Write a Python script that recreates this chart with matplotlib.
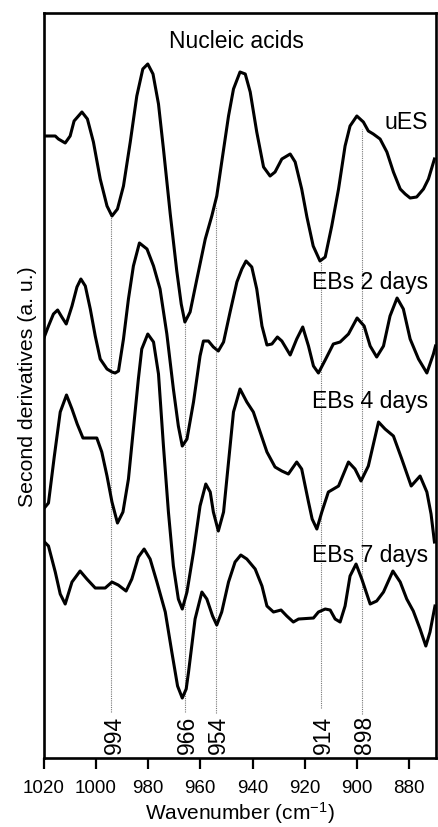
import matplotlib
matplotlib.use("Agg")
import matplotlib.pyplot as plt

plt.rcParams["font.family"] = ["Liberation Sans", "DejaVu Sans"]
plt.rcParams["mathtext.fontset"] = "custom"
plt.rcParams["mathtext.rm"] = "Liberation Sans"
plt.rcParams["mathtext.default"] = "regular"

# --- second-derivative spectra (wavenumber, a.u. with vertical offsets baked in) ---
UES_WN = [1020, 1015.5, 1014.3, 1011.7, 1009.8, 1008.3, 1005.3, 1003.2, 1000.9, 998.3,
          995.7, 993.8, 991.7, 989.4, 986.8, 984.3, 982.0, 980.1, 978.1, 976.0,
          974.1, 971.5, 969.0, 967.3, 965.9, 963.9, 961.3, 958.1, 955.6, 953.7,
          951.8, 949.2, 947.3, 944.8, 942.8, 940.9, 938.4, 935.8, 933.3, 931.4,
          928.8, 925.6, 923.7, 921.2, 919.2, 916.8, 914.2, 912.2, 909.7, 907.1,
          904.6, 902.7, 900.1, 897.6, 895.7, 893.8, 891.2, 888.6, 886.1, 883.5,
          881.6, 879.7, 877.2, 874.6, 872.7, 870.4]
UES_Y = [622, 622, 619, 615, 622, 637, 646, 639, 616, 579,
         552, 542, 549, 572, 616, 662, 689, 694, 684, 654,
         609, 544, 487, 454, 436, 446, 479, 519, 542, 562,
         596, 642, 669, 686, 684, 666, 626, 591, 582, 586,
         599, 604, 596, 569, 541, 512, 497, 501, 532, 569,
         612, 632, 642, 636, 627, 624, 619, 606, 586, 569,
         564, 560, 561, 569, 579, 599]

EB2_WN = [1020, 1018.1, 1016.2, 1014.6, 1013.0, 1011.3, 1009.1, 1007.2, 1005.7, 1004.0,
          1002.1, 1000.2, 998.3, 995.7, 993.8, 992.6, 991.3, 989.4, 987.5, 985.6,
          983.3, 980.4, 977.9, 975.4, 972.8, 970.3, 968.4, 966.9, 965.1, 962.6,
          960.1, 958.8, 956.9, 955.0, 953.1, 951.1, 948.6, 946.0, 944.1, 942.5,
          940.3, 938.4, 936.4, 934.5, 932.6, 930.5, 928.8, 925.6, 923.1, 920.8,
          918.6, 916.7, 914.8, 912.2, 909.1, 906.5, 903.3, 900.0, 897.3, 895.0,
          892.5, 889.9, 887.4, 884.7, 882.3, 879.7, 876.5, 873.3, 870.8, 870.0]
EB2_Y = [419, 432, 444, 448, 441, 434, 452, 471, 479, 472,
         449, 422, 399, 389, 386, 385, 387, 419, 459, 492,
         515, 509, 492, 469, 424, 369, 332, 312, 319, 356,
         402, 417, 417, 411, 407, 416, 446, 476, 489, 497,
         491, 469, 432, 413, 414, 421, 417, 403, 419, 431,
         412, 392, 385, 398, 414, 416, 424, 440, 432, 412,
         401, 412, 442, 460, 449, 419, 399, 385, 404, 412]

EB4_WN = [1020, 1018.1, 1015.9, 1013.6, 1011.2, 1009.1, 1007.1, 1004.9, 999.6, 997.7,
          995.7, 993.8, 991.7, 989.6, 987.5, 985.6, 983.7, 982.4, 980.1, 977.9,
          976.0, 974.1, 972.2, 970.3, 968.4, 966.9, 965.1, 962.6, 960.1, 957.9,
          956.2, 955.0, 953.1, 951.1, 949.2, 947.3, 944.8, 942.2, 939.7, 937.1,
          934.5, 931.4, 928.8, 926.3, 923.1, 921.2, 918.6, 917.2, 915.4, 913.5,
          911.0, 907.1, 903.3, 900.8, 898.5, 895.7, 891.8, 889.3, 886.1, 882.9,
          879.3, 875.9, 873.3, 871.7, 870.4]
EB4_Y = [249, 255, 301, 346, 363, 349, 334, 320, 320, 306,
         282, 256, 235, 246, 279, 329, 379, 409, 424, 416,
         384, 312, 246, 192, 159, 149, 166, 206, 252, 274,
         266, 246, 227, 246, 296, 346, 369, 356, 346, 326,
         306, 291, 287, 284, 296, 289, 256, 239, 229, 246,
         266, 272, 296, 289, 277, 292, 336, 329, 322, 299,
         272, 282, 266, 244, 216]

EB7_WN = [1020, 1018.1, 1015.5, 1013.6, 1011.7, 1009.1, 1006.0, 1003.4, 1000.2, 996.4,
          993.8, 991.4, 988.4, 986.2, 983.7, 981.5, 979.2, 976.6, 973.4, 970.9,
          968.7, 966.9, 965.4, 964.5, 962.0, 959.4, 957.5, 955.3, 953.7, 951.8,
          949.2, 946.7, 944.5, 942.2, 939.0, 936.4, 934.5, 932.0, 929.1, 926.9,
          924.4, 922.4, 916.7, 914.8, 912.2, 910.3, 908.4, 906.5, 904.6, 902.7,
          900.4, 898.2, 895.0, 892.5, 889.9, 886.3, 883.5, 881.0, 878.5, 875.9,
          873.7, 872.1, 870.2]
EB7_Y = [217, 212, 186, 164, 154, 176, 187, 179, 170, 170,
         176, 173, 167, 179, 201, 209, 199, 176, 146, 106,
         72, 60, 69, 86, 139, 166, 159, 142, 133, 146,
         176, 196, 203, 199, 189, 172, 152, 146, 148, 142,
         136, 139, 140, 146, 149, 148, 139, 136, 152, 182,
         194, 179, 154, 157, 166, 187, 176, 159, 147, 129,
         112, 126, 152]

SERIES = [("uES", UES_WN, UES_Y, 630),
          ("EBs 2 days", EB2_WN, EB2_Y, 470),
          ("EBs 4 days", EB4_WN, EB4_Y, 351),
          ("EBs 7 days", EB7_WN, EB7_Y, 197)]

# marker bands: position, top of dotted guide, bottom of dotted guide
BANDS = [994, 966, 954, 914, 898]
BAND_TOP = [542, 436, 552, 496, 629]
BAND_BOT = [46, 46, 45, 50, 44]

fig = plt.figure(figsize=(4.39, 8.28), dpi=100)
ax = fig.add_axes([0.0991, 0.0833, 0.8941, 0.8998])

for wn, top, bot in zip(BANDS, BAND_TOP, BAND_BOT):
    ax.plot([wn, wn], [bot, top], ls=(0, (1, 1)), lw=0.8, color="#777777", zorder=1)
    ax.text(wn - 1, 5, str(wn), rotation=90, ha="center", va="bottom", fontsize=16.5)

for name, wn, y, ylab in SERIES:
    ax.plot(wn, y, color="black", lw=2.2, solid_joinstyle="round", zorder=2)
    ax.text(872.8, ylab, name, ha="right", va="baseline", fontsize=16.6)

ax.text(946, 711, "Nucleic acids", ha="center", va="baseline", fontsize=16.5)

ax.set_xlim(1020, 869.8)
ax.set_ylim(0, 745)
ax.set_xticks([1020, 1000, 980, 960, 940, 920, 900, 880])
ax.set_yticks([])
ax.tick_params(axis="x", direction="out", length=8, width=1.6, pad=7, labelsize=13.5)
for sp in ax.spines.values():
    sp.set_linewidth(1.9)
ax.set_xlabel("Wavenumber (cm$^{-1}$)", fontsize=15, labelpad=2)
ax.set_ylabel("Second derivatives (a. u.)", fontsize=15.3, labelpad=5)

fig.savefig("out.png", dpi=100)
